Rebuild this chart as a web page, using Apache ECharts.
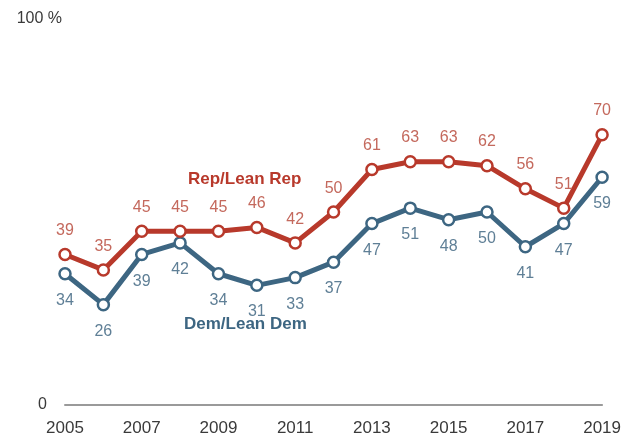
<!DOCTYPE html>
<html>
<head>
<meta charset="utf-8">
<script src="https://cdn.jsdelivr.net/npm/echarts@6/dist/echarts.min.js"></script>
<style>
  html, body { margin: 0; padding: 0; background: #fff; }
  #chart { width: 624px; height: 439px; }
</style>
</head>
<body>
<div id="chart"></div>
<script>
// 数据
const years = ['2005', '2006', '2007', '2008', '2009', '2010', '2011', '2012',
  '2013', '2014', '2015', '2016', '2017', '2018', '2019'];
const repValues = [39, 35, 45, 45, 45, 46, 42, 50, 61, 63, 63, 62, 56, 51, 70];
const demValues = [34, 26, 39, 42, 34, 31, 33, 37, 47, 51, 48, 50, 41, 47, 59];
const yTicks = [0, 100];

const REP = '#b8392b';
const DEM = '#3d6682';
const FONT = 'Liberation Sans';

const chart = echarts.init(document.getElementById('chart'));

function lineSeries(name, data, color, labelColor, pos, dist) {
  return {
    name: name,
    type: 'line',
    data: data,
    symbol: 'circle',
    symbolSize: 11,
    lineStyle: { color: color, width: 5 },
    itemStyle: { color: '#fff', borderColor: color, borderWidth: 2.5 },
    label: {
      show: true,
      position: pos,
      distance: dist,
      color: labelColor,
      fontFamily: FONT,
      fontSize: 16,
    },
    z: name === 'Rep/Lean Rep' ? 3 : 2,
  };
}

const option = {
  animation: false,
  grid: { left: 65, right: 21, top: 19, bottom: 34 },
  xAxis: {
    type: 'category',
    data: years,
    boundaryGap: false,
    axisLine: { lineStyle: { color: '#9a9a9a', width: 2 } },
    axisTick: { show: false },
    axisLabel: {
      interval: 1,
      margin: 15,
      color: '#3a3a3a',
      fontFamily: FONT,
      fontSize: 17,
    },
  },
  yAxis: {
    type: 'value',
    min: yTicks[0],
    max: yTicks[1],
    interval: 100,
    axisLine: { show: false },
    axisTick: { show: false },
    splitLine: { show: false },
    axisLabel: {
      margin: 3,
      color: '#3a3a3a',
      fontFamily: FONT,
      fontSize: 16,
      formatter: function (v) {
        return v === 100 ? '100 %' : '{z|' + v + '}';
      },
      rich: { z: { padding: [0, 15, 0, 0], fontSize: 16, fontFamily: FONT, color: '#3a3a3a' } },
    },
  },
  graphic: [
    {
      type: 'text', left: 188, top: 171,
      style: { text: 'Rep/Lean Rep', fill: REP, font: 'bold 17px ' + FONT },
    },
    {
      type: 'text', left: 184, top: 316,
      style: { text: 'Dem/Lean Dem', fill: DEM, font: 'bold 17px ' + FONT },
    },
  ],
  series: [
    lineSeries('Dem/Lean Dem', demValues, DEM, '#5f7f96', 'bottom', 12),
    lineSeries('Rep/Lean Rep', repValues, REP, '#c4695d', 'top', 9),
  ],
};

chart.setOption(option);
</script>
</body>
</html>
